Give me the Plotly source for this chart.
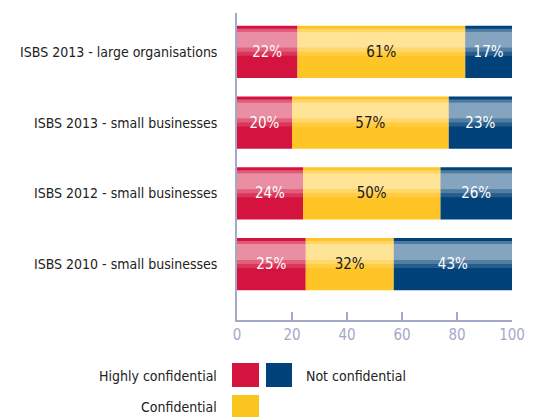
import plotly.graph_objects as go

categories = ["ISBS 2013 - large organisations", "ISBS 2013 - small businesses",
              "ISBS 2012 - small businesses", "ISBS 2010 - small businesses"]
series_names = ["Highly confidential", "Confidential", "Not confidential"]
highly = [22, 20, 24, 25]
confidential = [61, 57, 50, 32]
not_conf = [17, 23, 26, 43]
x_ticks = [0, 20, 40, 60, 80, 100]

colors = ["#D4143F", "#FFC425", "#01427A"]
text_colors = ["white", "#1a1a1a", "white"]
FONT = "Liberation Sans Narrow, Arial Narrow, DejaVu Sans Condensed, sans-serif"
AXIS = "#A3A9CB"

series = [highly, confidential, not_conf]
bases = []
run = [0] * len(categories)
for s in series:
    bases.append(list(run))
    run = [a + b for a, b in zip(run, s)]

fig = go.Figure()
W, OFF = 0.74, -0.37
# main bars
for name, vals, base, col in zip(series_names, series, bases, colors):
    fig.add_trace(go.Bar(y=categories, x=vals, base=base, orientation="h", name=name,
                         marker=dict(color=col, line=dict(width=0)),
                         width=W, offset=OFF, showlegend=False, hoverinfo="skip"))
# glossy highlight bands (approximate vertical gradient)
bands = [(3, 6, 0.3), (6, 22, 0.52), (22, 26, 0.32), (26, 30, 0.14)]
PX = 70.7
for vals, base in zip(series, bases):
    for p0, p1, a in bands:
        fig.add_trace(go.Bar(y=categories, x=vals, base=base, orientation="h",
                             marker=dict(color=f"rgba(255,255,255,{a})", line=dict(width=0)),
                             width=(p1 - p0) / PX, offset=OFF + p0 / PX,
                             showlegend=False, hoverinfo="skip"))
# labels
for vals, base, tc in zip(series, bases, text_colors):
    fig.add_trace(go.Bar(y=categories, x=vals, base=base, orientation="h",
                         marker=dict(color="rgba(0,0,0,0)", line=dict(width=0)),
                         width=W, offset=OFF, text=[f"{v}%" for v in vals],
                         textposition="inside", insidetextanchor="middle",
                         textfont=dict(color=tc, size=15, family=FONT),
                         showlegend=False, hoverinfo="skip"))

fig.update_layout(
    width=533, height=417, barmode="overlay",
    margin=dict(l=237, r=21, t=13, b=97),
    paper_bgcolor="white", plot_bgcolor="white",
    font=dict(family=FONT, color="#222"),
    xaxis=dict(range=[0, 100], tickvals=x_ticks, ticks="inside", ticklen=8, tickcolor=AXIS,
               tickwidth=1.5, showline=True, linecolor=AXIS, linewidth=1.5, showgrid=False,
               zeroline=False, automargin=False,
               tickfont=dict(size=15, color=AXIS, family=FONT)),
    yaxis=dict(range=[3.79, -0.55], showline=True, linecolor=AXIS, linewidth=1.5,
               showgrid=False, ticks="", ticklabelstandoff=15, automargin=False,
               tickfont=dict(size=14, color="#222", family=FONT)),
    showlegend=False,
)

# custom legend
def px2paper(x, y):
    return (x - 237) / 275, (320 - y) / 307

legend_boxes = [(232, 363, 259, 387, colors[0]), (266, 363, 292, 387, colors[2]),
                (232, 395, 259, 419, "#F9C51E")]
for x0, y0, x1, y1, c in legend_boxes:
    a0, b0 = px2paper(x0, y1)
    a1, b1 = px2paper(x1, y0)
    fig.add_shape(type="rect", xref="paper", yref="paper", x0=a0, y0=b0, x1=a1, y1=b1,
                  fillcolor=c, line=dict(width=0))
legend_labels = [(219, 376, series_names[0], "right"), (304, 376, series_names[2], "left"),
                 (219, 407, series_names[1], "right")]
for x, y, t, al in legend_labels:
    a, b = px2paper(x, y)
    fig.add_annotation(xref="paper", yref="paper", x=a, y=b, text=t, showarrow=False,
                       xanchor=al, yanchor="middle", font=dict(size=14, color="#222", family=FONT))

fig.write_html("out.html", config={"displayModeBar": False},
               post_script="document.body.style.margin='0';document.body.style.overflow='hidden';")
